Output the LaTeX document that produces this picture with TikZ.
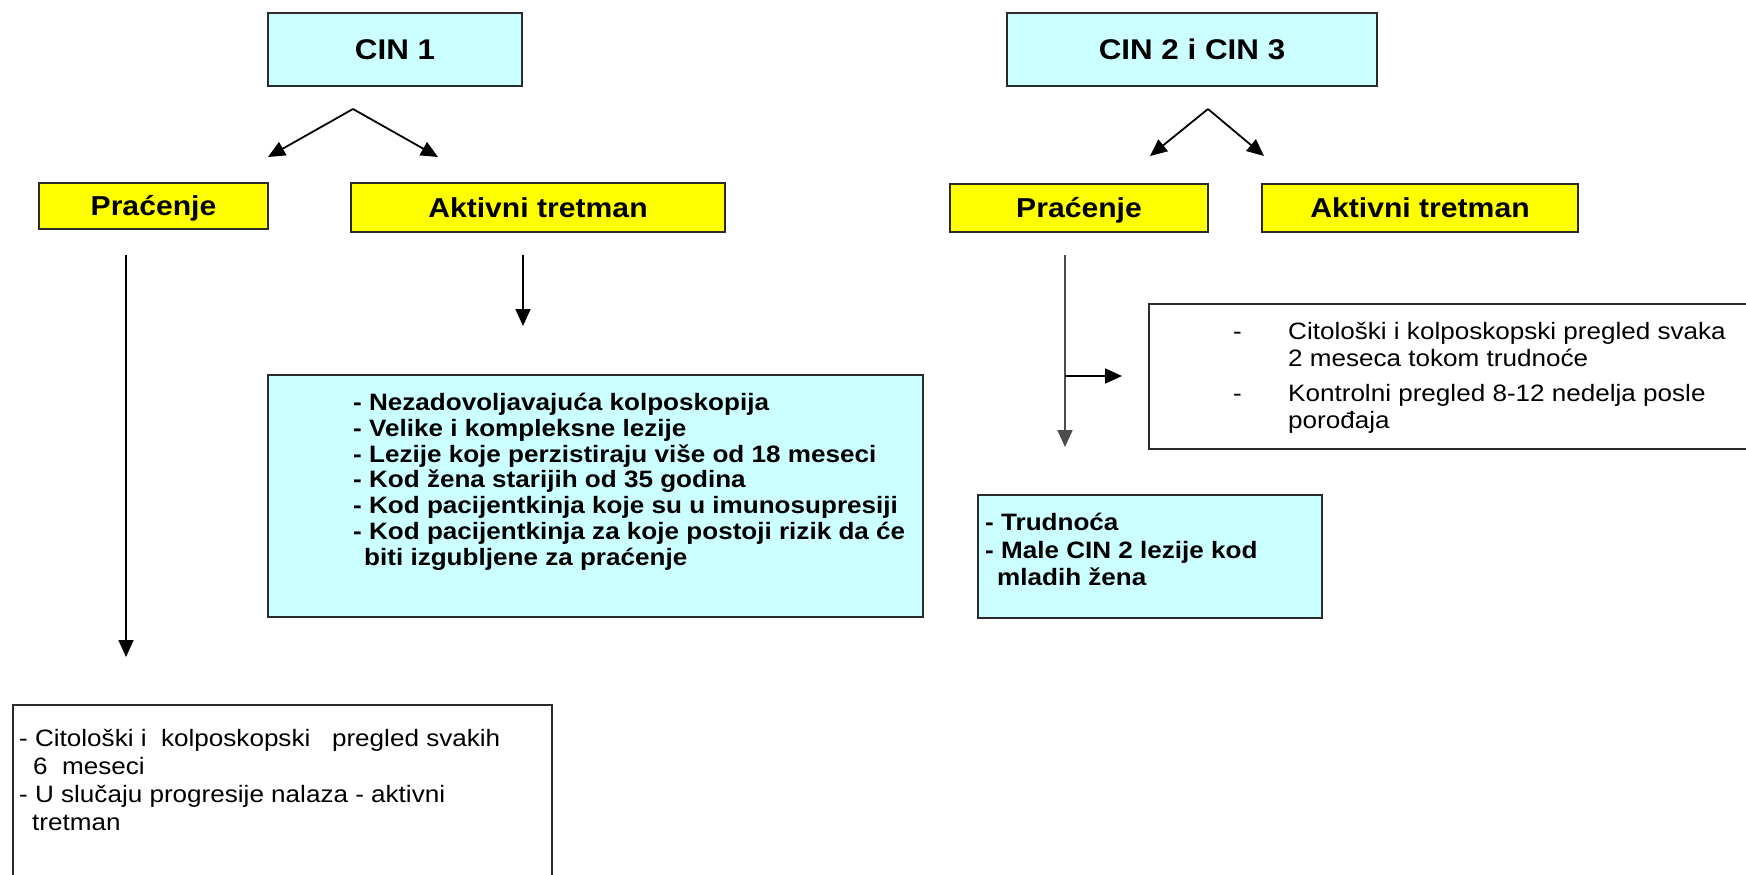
\documentclass[tikz,border=0pt]{standalone}
\usepackage{fontspec}
\setmainfont{Liberation Sans}[FakeStretch=1.1]
\usetikzlibrary{arrows.meta,calc}
\definecolor{boxcyan}{HTML}{CCFFFF}
\definecolor{boxyellow}{HTML}{FFFF00}
\definecolor{edge}{HTML}{2B2B2B}
\tikzset{
  cinbox/.style={draw=edge, line width=2pt, fill=boxcyan, inner sep=0pt,
    text height=20pt, text depth=0pt,
    font=\fontsize{28.5}{31}\selectfont\bfseries},
  headbox/.style={draw=edge, line width=2pt, fill=boxyellow, inner sep=0pt,
    text height=19pt, text depth=0pt,
    font=\fontsize{27.4}{30}\selectfont\bfseries},
  listbox/.style={draw=edge, line width=2pt, inner sep=0pt},
  boldtext/.style={font=\fontsize{23.7}{25.8}\selectfont\bfseries, align=left,
    inner sep=0pt, anchor=north west},
  plaintext/.style={font=\fontsize{23.7}{28}\selectfont, align=left,
    inner sep=0pt, anchor=north west},
  arrow/.style={-{Triangle[length=17pt,width=15pt]}, draw=black, line width=1.8pt}
}

\begin{document}
\begin{tikzpicture}[x=1pt, y=-1pt]
  \useasboundingbox (0,0) rectangle (1746,875);
  \clip (0,0) rectangle (1746,875);
  \fill[white] (0,0) rectangle (1746,875);

  % top level
  \node[cinbox, minimum width=254, minimum height=73] (cinA) at (395,49.5) {CIN 1};
  \node[cinbox, minimum width=370, minimum height=73] (cinB) at (1192,49.5) {CIN 2 i CIN 3};

  % second level
  \node[headbox, minimum width=229, minimum height=46] (pracA) at (153.5,206) {Praćenje};
  \node[headbox, minimum width=374, minimum height=49] (aktA) at (538,207.5) {Aktivni tretman};
  \node[headbox, minimum width=258, minimum height=48] (pracB) at (1079,208) {Praćenje};
  \node[headbox, minimum width=316, minimum height=48] (aktB) at (1420,208) {Aktivni tretman};

  % lists
  \node[listbox, fill=boxcyan, minimum width=655, minimum height=242] (aktList) at (595.5,496) {};
  \node[boldtext] (aktText) at (353,393) {%
    - Nezadovoljavajuća kolposkopija\\
    - Velike i kompleksne lezije\\
    - Lezije koje perzistiraju više od 18 meseci\\
    - Kod žena starijih od 35 godina\\
    - Kod pacijentkinja koje su u imunosupresiji\\
    - Kod pacijentkinja za koje postoji rizik da će\\
    \hspace*{11pt}biti izgubljene za praćenje};

  \node[listbox, fill=boxcyan, minimum width=344, minimum height=123] (trudList) at (1150,556.5) {};
  \node[boldtext, font=\fontsize{23.7}{27.5}\selectfont\bfseries] (trudText) at (985,513) {%
    - Trudnoća\\
    - Male CIN 2 lezije kod\\
    \hspace*{12pt}mladih žena};

  \node[listbox, fill=white, minimum width=611, minimum height=145] (kontrList) at (1454.5,376.5) {};
  \node[plaintext, font=\fontsize{23.7}{27}\selectfont] (kontrText) at (1233,322) {%
    \makebox[55pt][l]{-}Citološki i kolposkopski pregled svaka\\
    \hspace*{55pt}2 meseca tokom trudnoće\\[8pt]
    \makebox[55pt][l]{-}Kontrolni pregled 8-12 nedelja posle\\
    \hspace*{55pt}porođaja};

  \node[listbox, fill=white, minimum width=539, minimum height=195] (pracList) at (282.5,802.5) {};
  \node[plaintext] (pracText) at (19,729) {%
    - Citološki i\ \ kolposkopski\ \ \ pregled svakih\\
    \hspace*{14pt}6\ \ meseci\\
    - U slučaju progresije nalaza - aktivni\\
    \hspace*{13pt}tretman};

  % arrow ends
  \coordinate (forkA) at (353,109);
  \coordinate (forkAl) at (268,157);
  \coordinate (forkAr) at (438,157);
  \coordinate (forkB) at (1208,109);
  \coordinate (forkBl) at (1150,156);
  \coordinate (forkBr) at (1264,156);
  \coordinate (downA) at (126,255);
  \coordinate (downAend) at (126,657);
  \coordinate (downM) at (523,255);
  \coordinate (downMend) at (523,326);
  \coordinate (downB) at (1065,255);
  \coordinate (downBend) at (1065,447);
  \coordinate (sideB) at (1065,376);
  \coordinate (sideBend) at (1122,376);

  \draw[arrow] (forkA) -- (forkAl);
  \draw[arrow] (forkA) -- (forkAr);
  \draw[arrow] (forkB) -- (forkBl);
  \draw[arrow] (forkB) -- (forkBr);
  \draw[arrow] (downA) -- (downAend);
  \draw[arrow] (downM) -- (downMend);
  \draw[arrow, draw=black!70] (downB) -- (downBend);
  \draw[arrow] (sideB) -- (sideBend);
\end{tikzpicture}
\end{document}
